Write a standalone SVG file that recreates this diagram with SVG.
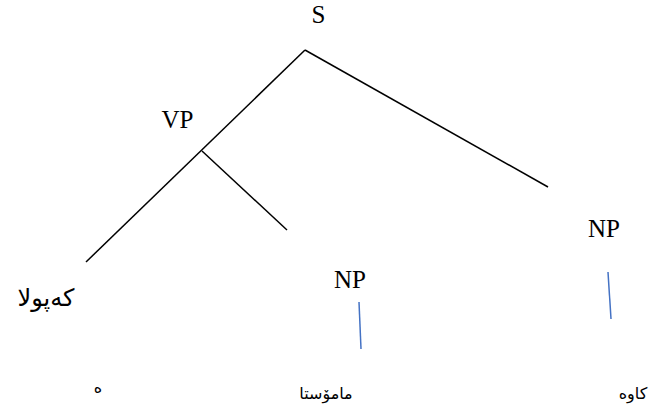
<svg xmlns="http://www.w3.org/2000/svg" width="657" height="415" viewBox="0 0 657 415">
<style>
.lbl{font-family:"Liberation Serif","Times New Roman",serif;font-size:25px;fill:#000;text-anchor:middle}
.ar{font-family:"DejaVu Sans","Noto Sans",sans-serif;fill:#000;text-anchor:middle}
.edge{stroke:#000;stroke-width:1.5;fill:none}
.blue{stroke:#4472C4;stroke-width:1.5;fill:none}
</style>
<rect width="657" height="415" fill="#fff"/>
<g id="connectors">
<line class="edge" x1="305" y1="50" x2="86" y2="262"/>
<line class="edge" x1="305" y1="50" x2="548" y2="187"/>
<line class="edge" x1="202" y1="151" x2="287" y2="230"/>
<line class="blue" x1="359" y1="302" x2="361" y2="349"/>
<line class="blue" x1="608" y1="272" x2="611" y2="319"/>
</g>
<g id="node-S"><text class="lbl" x="318.5" y="23">S</text></g>
<g id="node-VP"><text class="lbl" x="177.5" y="128">VP</text></g>
<g id="node-NP1"><text class="lbl" x="350" y="288">NP</text></g>
<g id="node-NP2"><text class="lbl" x="604" y="237">NP</text></g>
<g id="node-kepula"><text class="ar" x="46" y="306" font-size="24">کەپولا</text></g>
<g id="node-he"><text class="ar" x="98" y="393" font-size="16">ه</text></g>
<g id="node-mamosta"><text class="ar" x="326" y="399" font-size="16">مامۆستا</text></g>
<g id="node-kawe"><text class="ar" x="633" y="399" font-size="16">کاوه</text></g>
</svg>
